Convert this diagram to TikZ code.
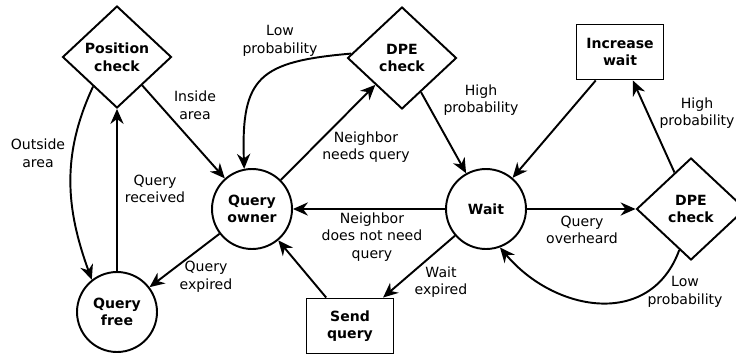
\documentclass[tikz,border=0pt]{standalone}
\usepackage{fontspec}
\setmainfont{DejaVu Sans}
\usetikzlibrary{arrows.meta,shapes.geometric}

\begin{document}
\begin{tikzpicture}[x=0.02cm, y=-0.02cm, line width=1.1pt,
  every node/.style={font=\fontsize{8}{10}\selectfont},
  state/.style={circle, draw, minimum size=1.6cm, inner sep=0pt, align=center,
    font=\fontsize{8}{10}\selectfont\bfseries},
  check/.style={diamond, draw, minimum width=2.18cm, minimum height=2.04cm,
    inner sep=0pt, align=center, font=\fontsize{8}{10}\selectfont\bfseries},
  action/.style={rectangle, draw, minimum width=1.74cm, minimum height=1.1cm,
    inner sep=0pt, align=center, font=\fontsize{8}{10}\selectfont\bfseries},
  trans/.style={-{Stealth[length=8.5pt,width=7.5pt]}},
  lbl/.style={align=center, inner sep=0pt}]
  \clip (0,0) rectangle (736,355);
  % states
  \node[state] (free) at (117,312) {Query\\free};
  \node[state] (owner) at (252,209) {Query\\owner};
  \node[state] (wait) at (486,209) {Wait};
  % checks and actions
  \node[check] (poscheck) at (117,57) {Position\\check};
  \node[check] (dpeup) at (402,58) {DPE\\check};
  \node[check] (dperight) at (691,209) {DPE\\check};
  \node[action] (incwait) at (620,52) {Increase\\wait};
  \node[action] (sendq) at (350,326) {Send\\query};
  % transitions
  \draw[trans] (poscheck) -- (owner);
  \draw[trans] (poscheck.231) to[out=245, in=110] (free.128);
  \draw[trans] (free) -- (poscheck);
  \draw[trans] (owner) -- (free);
  \draw[trans] (owner) -- (dpeup);
  \draw[trans] (dpeup.175) to[out=185, in=92, looseness=1.5] (owner.101);
  \draw[trans] (dpeup) -- (wait);
  \draw[trans] (wait) -- (owner);
  \draw[trans] (wait) -- (sendq);
  \draw[trans] (sendq) -- (owner);
  \draw[trans] (wait) -- (dperight);
  \draw[trans] (dperight.254) to[out=250, in=310, looseness=1.2] (wait.290);
  \draw[trans] (dperight) -- (incwait);
  \draw[trans] (incwait) -- (wait);
  % labels
  \node[lbl] (lout) at (38,153) {Outside\\area};
  \node[lbl] (lin) at (195,105) {Inside\\area};
  \node[lbl] (lrec) at (155,189) {Query\\received};
  \node[lbl] (lexp) at (206,277) {Query\\expired};
  \node[lbl] (llowup) at (280,41) {Low\\probability};
  \node[lbl] (lneeds) at (366,147) {Neighbor\\needs query};
  \node[lbl] (lhighup) at (481,100) {High\\probability};
  \node[lbl] (lnoneed) at (372,237) {Neighbor\\does not need\\query};
  \node[lbl] (lwexp) at (441,282) {Wait\\expired};
  \node[lbl] (lover) at (582,230) {Query\\overheard};
  \node[lbl] (llowright) at (685,292) {Low\\probability};
  \node[lbl] (lhighright) at (697,113) {High\\probability};
\end{tikzpicture}
\end{document}
